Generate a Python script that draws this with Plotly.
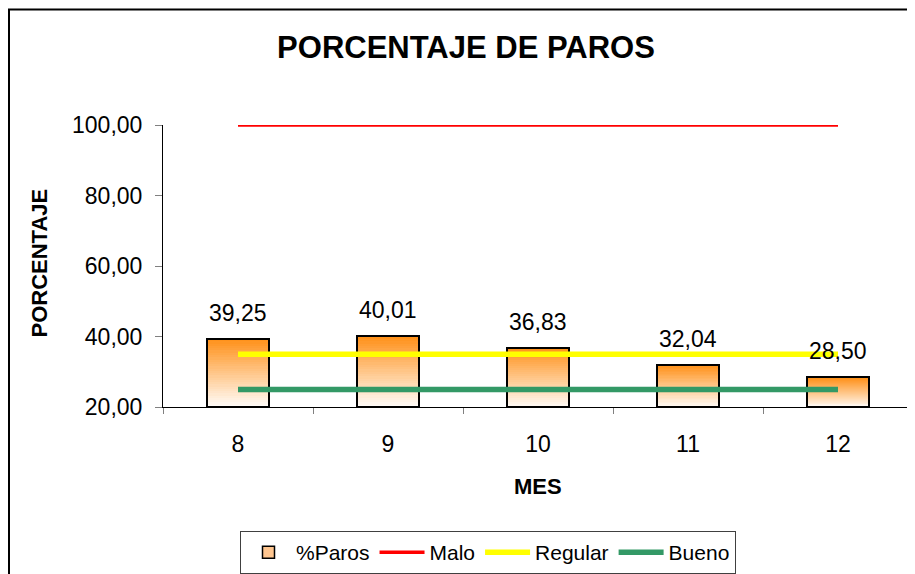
import plotly.graph_objects as go

# datos del gráfico
MESES = ["8", "9", "10", "11", "12"]
PAROS = [39.25, 40.01, 36.83, 32.04, 28.50]
MALO = [100, 100, 100, 100, 100]
REGULAR = [35, 35, 35, 35, 35]
BUENO = [25, 25, 25, 25, 25]
Y_TICKS = [20, 40, 60, 80, 100]

# geometría en píxeles de la imagen de referencia (915x574)
# la página añade 8px de margen al body, por eso la figura se corre OFF px
OFF = 8
W, H = 915 - OFF, 574 - OFF
L, R, T, B = 163, 913, 125, 408
Y_MIN, Y_MAX = 20, 100
FONT = "Liberation Sans, Arial, sans-serif"


def px_x(p):
    return (p - L) / (R - L)


def px_y(p):
    return (B - p) / (B - T)


fig = go.Figure()

# barras con degradado naranja -> blanco (segmentos apilados)
N = 30
top_rgb = (255, 146, 28)
bot_rgb = (255, 251, 247)
for k in range(N):
    t = k / (N - 1)  # 0 abajo, 1 arriba
    c = tuple(round(bot_rgb[i] + (top_rgb[i] - bot_rgb[i]) * t) for i in range(3))
    fig.add_trace(go.Bar(
        x=MESES,
        y=[(v - Y_MIN) / N for v in PAROS],
        base=[Y_MIN + (v - Y_MIN) * k / N for v in PAROS],
        width=0.41,
        marker=dict(color="rgb(%d,%d,%d)" % c, line=dict(width=0)),
        showlegend=False, hoverinfo="skip",
    ))

# contorno de las barras
fig.add_trace(go.Bar(
    x=MESES, y=[v - Y_MIN for v in PAROS], base=[Y_MIN] * len(PAROS),
    width=0.41, name="%Paros", showlegend=False,
    marker=dict(color="rgba(0,0,0,0)", line=dict(color="black", width=2)),
))

# entrada de leyenda para %Paros
fig.add_trace(go.Bar(
    x=[MESES[0]], y=[None], name="%Paros", width=0.41,
    marker=dict(color="#FFC690", line=dict(color="black", width=1.5)),
))

fig.add_trace(go.Scatter(x=MESES, y=MALO, mode="lines", name="Malo",
                         line=dict(color="#FF0000", width=3.5)))
fig.add_trace(go.Scatter(x=MESES, y=REGULAR, mode="lines", name="Regular",
                         line=dict(color="#FFFF00", width=5.5)))
fig.add_trace(go.Scatter(x=MESES, y=BUENO, mode="lines", name="Bueno",
                         line=dict(color="#339966", width=5.5)))

# etiquetas de valor sobre las barras (x por índice de categoría)
for i, v in enumerate(PAROS):
    fig.add_annotation(x=i, y=v, text=("%.2f" % v).replace(".", ","),
                       showarrow=False, yanchor="middle", yshift=26,
                       font=dict(family=FONT, size=23, color="black"))

# títulos de ejes
fig.add_annotation(xref="paper", yref="paper", x=px_x(40), y=px_y(264),
                   xanchor="center", yanchor="middle",
                   text="<b>PORCENTAJE</b>", textangle=-90, showarrow=False,
                   font=dict(family=FONT, size=22, color="black"))
fig.add_annotation(xref="paper", yref="paper", x=px_x(538), y=px_y(488),
                   xanchor="center", yanchor="middle",
                   text="<b>MES</b>", showarrow=False,
                   font=dict(family=FONT, size=22, color="black"))

# borde exterior del gráfico
fig.add_shape(type="rect", xref="paper", yref="paper",
              x0=px_x(9), x1=px_x(940), y0=px_y(600), y1=px_y(9),
              line=dict(color="black", width=2), layer="above")

fig.update_layout(
    width=W, height=H,
    margin=dict(l=L - OFF, r=W - (R - OFF), t=T - OFF, b=H - (B - OFF)),
    paper_bgcolor="white", plot_bgcolor="white",
    barmode="overlay", bargap=0,
    separators=",.",
    font=dict(family=FONT, size=23, color="black"),
    title=dict(text="<b>PORCENTAJE DE PAROS</b>", x=(466 - OFF) / W, xref="container",
               xanchor="center", y=1 - (47 - OFF) / H, yref="container", yanchor="middle",
               font=dict(family=FONT, size=31, color="black")),
    xaxis=dict(type="category", showline=True, linecolor="black", linewidth=1,
               ticks="outside", ticklen=6, tickcolor="#808080", tickson="boundaries",
               showgrid=False, ticklabelstandoff=16, tickfont=dict(size=23)),
    yaxis=dict(range=[Y_MIN, Y_MAX], tickvals=Y_TICKS, tickformat=".2f",
               showline=True, linecolor="black", linewidth=1, showgrid=False,
               zeroline=False, ticks="outside", ticklen=7, tickcolor="#808080",
               ticklabelstandoff=8, tickfont=dict(size=23)),
    legend=dict(orientation="h", x=px_x(240), y=px_y(531), xanchor="left", yanchor="top",
                bordercolor="#404040", borderwidth=1, traceorder="normal", itemwidth=45,
                font=dict(family=FONT, size=21, color="black")),
    showlegend=True,
)

fig.write_html("out.html")
